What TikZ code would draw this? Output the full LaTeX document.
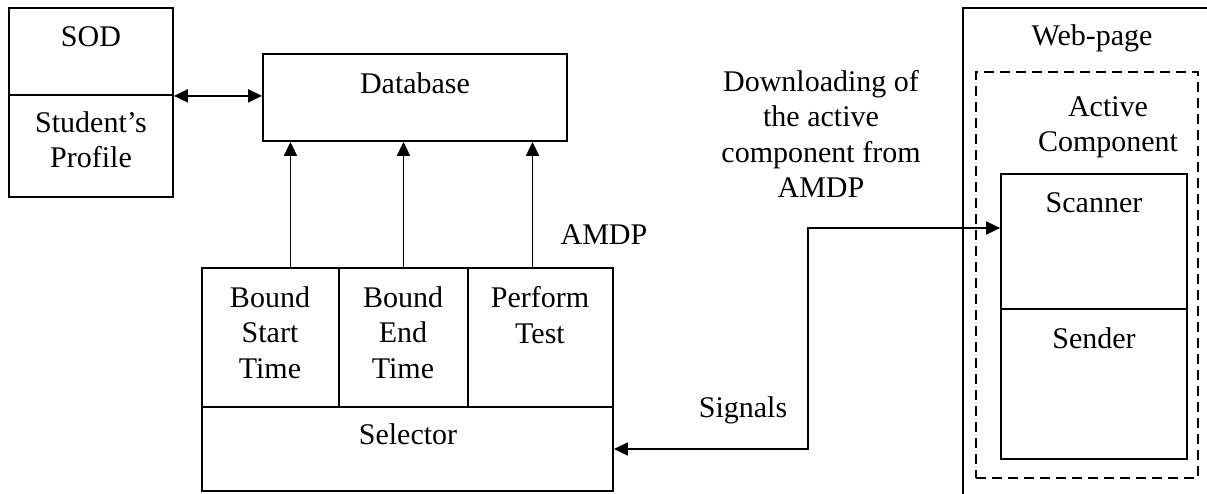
\documentclass[tikz,border=0pt]{standalone}
\usepackage{fontspec}
\setmainfont{Liberation Serif}
\usetikzlibrary{arrows.meta,fit}
\begin{document}
\begin{tikzpicture}[x=1pt,y=-1pt,
  box/.style={draw=black,line width=1.8pt,inner sep=0pt,fill=none},
  dbox/.style={box,dash pattern=on 10pt off 6pt},
  lbl/.style={inner sep=0pt,anchor=base,align=center,font=\fontsize{30}{35.5}\selectfont},
  conn/.style={line width=1.8pt,{Triangle[length=14pt,width=13pt]}-{Triangle[length=14pt,width=13pt]}},
  uconn/.style={line width=1.8pt,-{Triangle[length=14pt,width=13pt]}}]
\useasboundingbox (0,0) rectangle (1207,494);
\fill[white] (0,0) rectangle (1207,494);
% SOD
\node[box,fit={(9,8) (173,95)}] (sodA) {};
\node[box,fit={(9,95) (173,197)}] (sodB) {};
\node[lbl] (sodT) at (91,47) {SOD};
\node[lbl] (profT) at (91,168) {Student’s\\Profile};
% Database
\node[box,fit={(263,54) (567,141)}] (db) {};
\node[lbl] (dbT) at (415,94) {Database};
% AMDP
\node[box,fit={(202,268) (339,407)}] (bst) {};
\node[box,fit={(339,268) (468,407)}] (bet) {};
\node[box,fit={(468,268) (613,407)}] (pt) {};
\node[box,fit={(202,407) (613,491)}] (sel) {};
\node[lbl] (bstT) at (270,378) {Bound\\Start\\Time};
\node[lbl] (betT) at (403,378) {Bound\\End\\Time};
\node[lbl] (ptT) at (540,343) {Perform\\Test};
\node[lbl] (selT) at (408,444) {Selector};
\node[lbl] (amdpT) at (604,245) {AMDP};
% Web page
\begin{scope}
\clip (0,0) rectangle (1207,494);
\node[box,fit={(963,8) (1240,530)}] (web) {};
\end{scope}
\node[lbl] (webT) at (1092,46) {Web-page};
\node[dbox,fit={(976,72) (1198,478)}] (act) {};
\node[lbl] (actT) at (1108,152) {Active\\Component};
\node[box,fit={(1001,174) (1187,309)}] (scan) {};
\node[box,fit={(1001,309) (1187,459)}] (send) {};
\node[lbl] (scanT) at (1094,213) {Scanner};
\node[lbl] (sendT) at (1094,348) {Sender};
% Labels
\node[lbl] (dlT) at (821,198) {Downloading of\\the active\\component from\\AMDP};
\node[lbl] (sigT) at (743,417) {Signals};
% Connectors
\coordinate (c1) at (808,449);
\coordinate (c2) at (808,228);
\draw[conn] (sodA.south east) -- (sodA.south east -| db.west);
\draw[uconn] ([xshift=20pt]bst.north) -- ([xshift=20pt]bst.north |- db.south);
\draw[uconn] (bet.north) -- (bet.north |- db.south);
\draw[uconn] ([xshift=-8pt]pt.north) -- ([xshift=-8pt]pt.north |- db.south);
\draw[conn] (sel.east) -- (c1) -- (c2) -- (c2 -| scan.west);
\end{tikzpicture}
\end{document}
